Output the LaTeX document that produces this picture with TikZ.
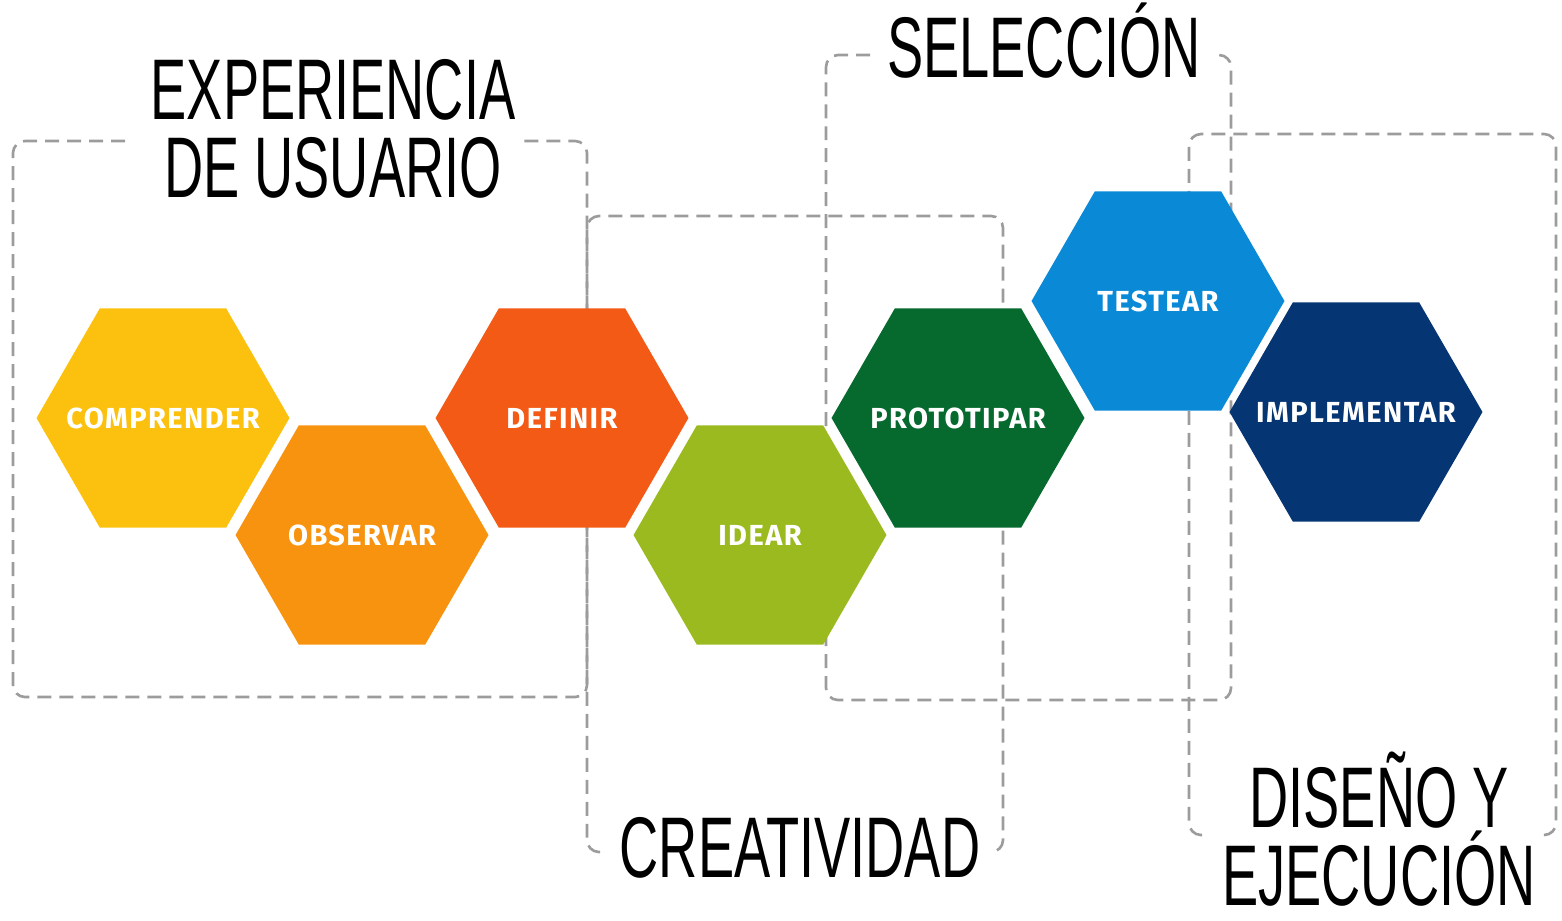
\documentclass[tikz,border=0pt]{standalone}
\usepackage{fontspec}
\usetikzlibrary{shapes.geometric}
\newfontfamily\ttlfont{Liberation Sans}
\newfontfamily\hexfont{Fira Sans}[LetterSpace=5]
\definecolor{cComprender}{HTML}{FBC10E}
\definecolor{cObservar}{HTML}{F8930F}
\definecolor{cDefinir}{HTML}{F25A15}
\definecolor{cIdear}{HTML}{9BBA1F}
\definecolor{cPrototipar}{HTML}{066A2F}
\definecolor{cTestear}{HTML}{0A89D6}
\definecolor{cImplementar}{HTML}{063574}
\definecolor{dashgray}{HTML}{9C9C9C}
\newcommand{\narrow}[1]{\scalebox{0.63}[1]{#1}}

\begin{document}
\begin{tikzpicture}[x=0.02cm, y=-0.02cm,
    hexa/.style={regular polygon, regular polygon sides=6, minimum size=5.06cm, inner sep=0pt, fill=#1},
    step label/.style={text=white, font=\hexfont\bfseries\fontsize{16.5}{18}\selectfont, inner sep=0pt},
    ttl/.style={font=\ttlfont\fontsize{49}{44}\selectfont, align=center, inner sep=0pt},
    frame/.style={draw=dashgray, line width=1.5pt, dash pattern=on 0.28cm off 0.16cm, rounded corners=0.24cm}]
                \useasboundingbox (0,0) rectangle (1562,920);
                % dashed groups
                \draw[frame] (125,141) -- (13,141) -- (13,697) -- (587,697) -- (587,141) -- (522,141);
                \draw[frame] (600,852) -- (587,852) -- (587,216) -- (1003,216) -- (1003,852) -- (990,852);
                \draw[frame] (870,55) -- (826,55) -- (826,700) -- (1231,700) -- (1231,55) -- (1215,55);
                \draw[frame] (1202,835) -- (1189,835) -- (1189,134) -- (1556,134) -- (1556,835) -- (1545,835);
                % steps
                \node[hexa=cComprender, label={[step label]center:COMPRENDER}] (comprender) at (163,418) {};
                \node[hexa=cObservar, label={[step label]center:OBSERVAR}] (observar) at (362,535) {};
                \node[hexa=cDefinir, label={[step label]center:DEFINIR}] (definir) at (562,418) {};
                \node[hexa=cIdear, label={[step label]center:IDEAR}] (idear) at (760,535) {};
                \node[hexa=cPrototipar, label={[step label]center:PROTOTIPAR}] (prototipar) at (958,418) {};
                \node[hexa=cTestear, label={[step label]center:TESTEAR}] (testear) at (1158,301) {};
                \node[hexa=cImplementar, label={[step label]center:IMPLEMENTAR}] (implementar) at (1356,412) {};
                % titles
                \node[ttl, anchor=base] (experiencia) at (333,197) {\narrow{EXPERIENCIA}\\\narrow{DE USUARIO}};
                \node[ttl, anchor=base] (seleccion) at (1044,77) {\narrow{SELECCIÓN}};
                \node[ttl, anchor=base] (creatividad) at (800,877) {\narrow{CREATIVIDAD}};
                \node[ttl, anchor=base] (diseno) at (1379,905) {\narrow{DISEÑO Y}\\\narrow{EJECUCIÓN}};
                \end{tikzpicture}
\end{document}
